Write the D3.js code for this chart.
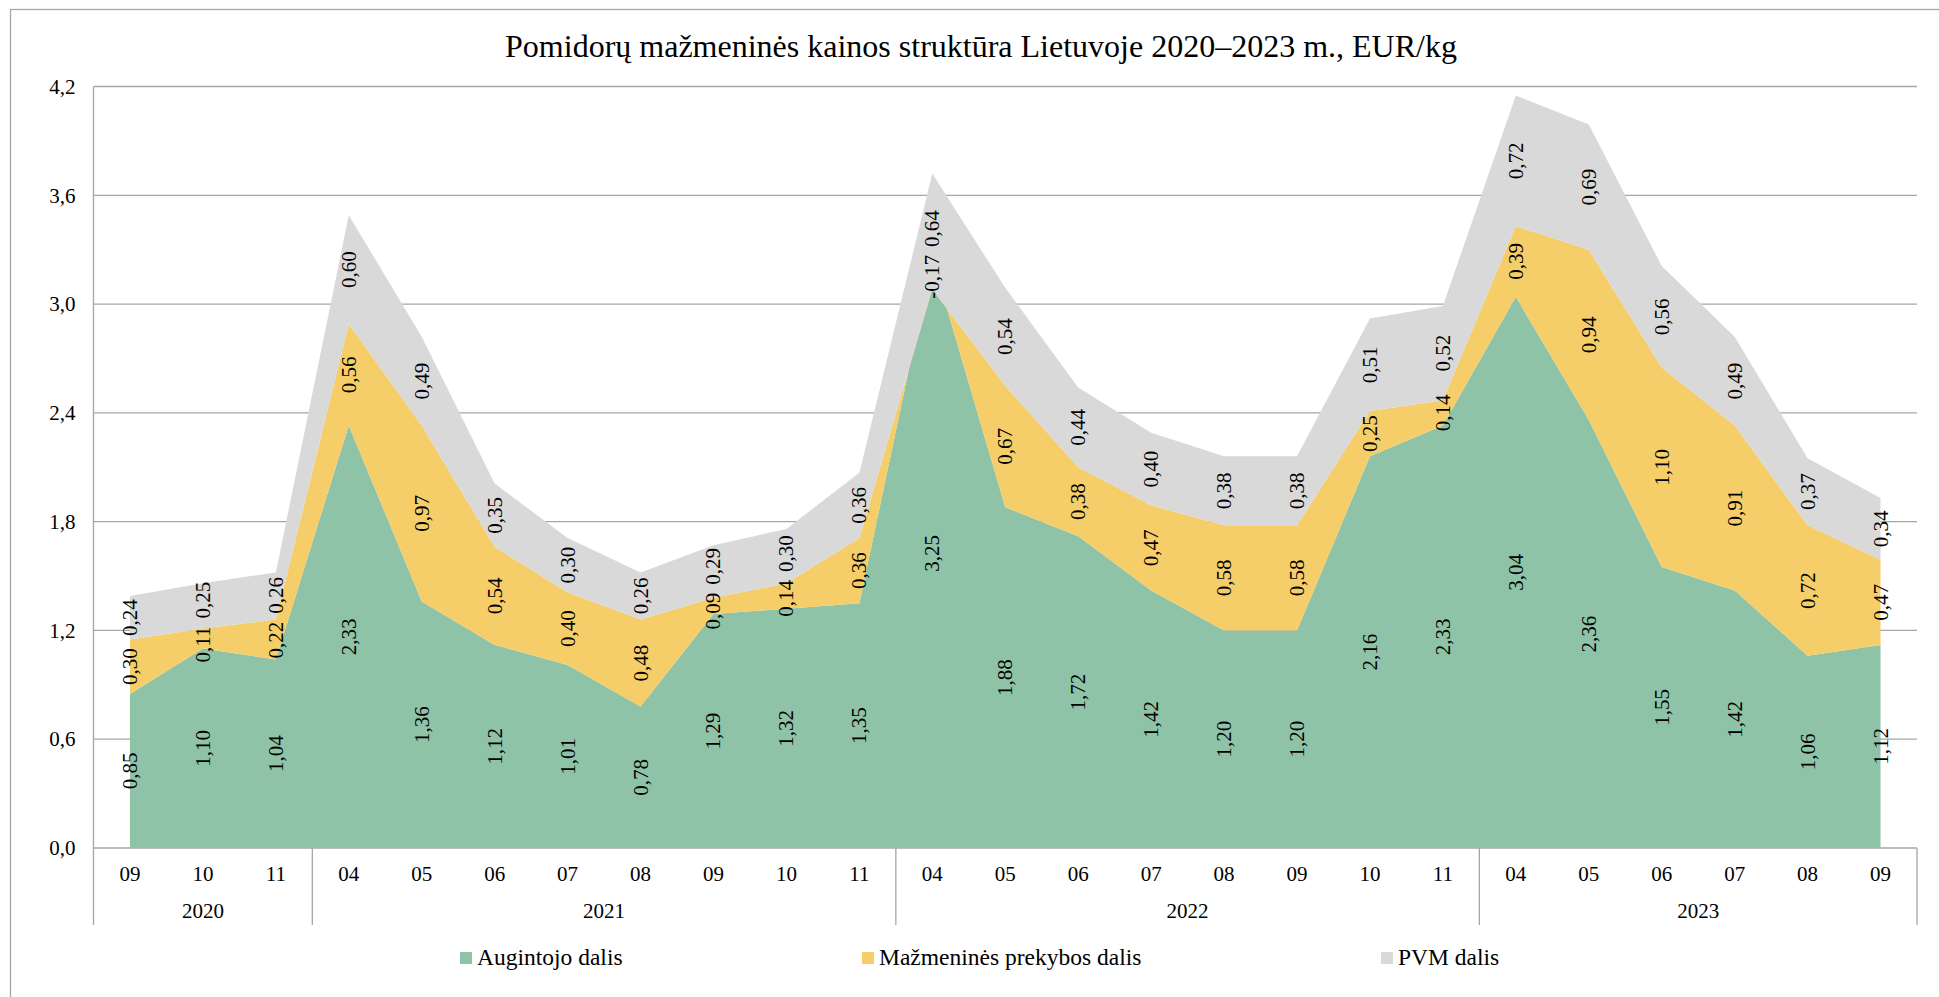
<!DOCTYPE html>
<html>
<head>
<meta charset="utf-8">
<script src="https://cdn.jsdelivr.net/npm/d3@7"></script>
<style>
  html, body { margin: 0; padding: 0; background: #fff; }
  svg { display: block; }
  text { font-family: "Liberation Serif", "Times New Roman", serif; fill: #000; }
</style>
</head>
<body>
<svg id="chart" width="1939" height="997"></svg>
<script>
// Months shown on the axis, grouped by year
const months = ["09","10","11",
  "04","05","06","07","08","09","10","11",
  "04","05","06","07","08","09","10","11",
  "04","05","06","07","08","09"];
const years = [
  { year: "2020", count: 3 },
  { year: "2021", count: 8 },
  { year: "2022", count: 8 },
  { year: "2023", count: 6 }
];

// Price components, EUR/kg
const augintojo = [0.85,1.10,1.04, 2.33,1.36,1.12,1.01,0.78,1.29,1.32,1.35,
  3.25,1.88,1.72,1.42,1.20,1.20,2.16,2.33, 3.04,2.36,1.55,1.42,1.06,1.12];
const mazmenines = [0.30,0.11,0.22, 0.56,0.97,0.54,0.40,0.48,0.09,0.14,0.36,
  -0.17,0.67,0.38,0.47,0.58,0.58,0.25,0.14, 0.39,0.94,1.10,0.91,0.72,0.47];
const pvm = [0.24,0.25,0.26, 0.60,0.49,0.35,0.30,0.26,0.29,0.30,0.36,
  0.64,0.54,0.44,0.40,0.38,0.38,0.51,0.52, 0.72,0.69,0.56,0.49,0.37,0.34];

const seriesNames = ["Augintojo dalis", "Mažmeninės prekybos dalis", "PVM dalis"];
const seriesColors = ["#8EC3A7", "#F5CD69", "#D9D9D9"];
const yTicks = [0, 0.6, 1.2, 1.8, 2.4, 3.0, 3.6, 4.2];

const title = "Pomidorų mažmeninės kainos struktūra Lietuvoje 2020–2023 m., EUR/kg";

const FONT = "Liberation Serif, Times New Roman, serif";
const svg = d3.select("#chart");
const plot = { left: 93.5, right: 1917, top: 86.5, bottom: 848 };
const gridColor = "#A6A6A6";

// outer chart frame
svg.append("rect")
  .attr("x", 10.5).attr("y", 9.5)
  .attr("width", 1935).attr("height", 990)
  .attr("fill", "none").attr("stroke", gridColor).attr("stroke-width", 1.3);

const table = months.map((m, i) => ({
  i, a: augintojo[i], m: mazmenines[i], p: pvm[i]
}));

const x = d3.scaleBand().domain(d3.range(months.length)).range([plot.left, plot.right]);
const cx = i => x(i) + x.bandwidth() / 2;
const y = d3.scaleLinear().domain([0, 4.2]).range([plot.bottom, plot.top]);

const fmt = v => d3.format(".2f")(v).replace(".", ",").replace("−", "-");
const fmt1 = v => d3.format(".1f")(v).replace(".", ",");

// horizontal gridlines
svg.append("g").selectAll("line").data(yTicks).join("line")
  .attr("x1", plot.left).attr("x2", plot.right)
  .attr("y1", d => y(d)).attr("y2", d => y(d))
  .attr("stroke", gridColor).attr("stroke-width", 1.3);

// y axis tick labels
const yAxis = d3.axisLeft(y).tickValues(yTicks).tickFormat(fmt1).tickSize(0).tickPadding(18);
const gy = svg.append("g").attr("transform", `translate(${plot.left},0)`).call(yAxis)
  .attr("font-family", FONT);
gy.select(".domain").remove();
gy.selectAll("text").attr("font-size", 21).attr("fill", "#000");

// stacked areas
const stack = d3.stack().keys(["a", "m", "p"]).offset(d3.stackOffsetNone);
const layers = stack(table);
const area = d3.area()
  .x(d => cx(d.data.i))
  .y0(d => y(d[0]))
  .y1(d => y(d[1]));

svg.append("g").selectAll("path").data(layers).join("path")
  .attr("d", area)
  .attr("fill", (d, k) => seriesColors[k]);

// value labels in the middle of each band, rotated
const labelsG = svg.append("g").attr("font-family", FONT);
const labels = [];
layers.forEach(layer => {
  layer.forEach(d => {
    const t = labelsG.append("text")
      .attr("text-anchor", "middle")
      .attr("dominant-baseline", "central")
      .attr("font-size", 21)
      .text(fmt(d.data[layer.key]));
    labels.push({ node: t, i: d.data.i, cy: y((d[0] + d[1]) / 2), len: t.node().getComputedTextLength() });
  });
});

// keep labels of one column from overlapping
const gap = 8;
d3.groups(labels, l => l.i).forEach(([, col]) => {
  for (let pass = 0; pass < 10; pass++) {
    col.sort((a, b) => a.cy - b.cy);
    for (let k = 0; k < col.length - 1; k++) {
      const up = col[k], dn = col[k + 1];
      const need = (up.len + dn.len) / 2 + gap;
      const dist = dn.cy - up.cy;
      if (dist < need) {
        const shift = (need - dist) / 2;
        up.cy -= shift;
        dn.cy += shift;
      }
    }
  }
});
labels.forEach(l => l.node.attr("transform", `translate(${cx(l.i)},${l.cy}) rotate(-90)`));

// left axis line, extending down into the category area
svg.append("line")
  .attr("x1", plot.left).attr("x2", plot.left)
  .attr("y1", plot.top).attr("y2", 925)
  .attr("stroke", gridColor).attr("stroke-width", 1.3);

// month labels
const xAxis = d3.axisBottom(x).tickFormat(i => months[i]).tickSize(0).tickPadding(18);
const gx = svg.append("g").attr("transform", `translate(0,${plot.bottom})`).call(xAxis)
  .attr("font-family", FONT);
gx.select(".domain").remove();
gx.selectAll("text").attr("font-size", 21).attr("fill", "#000");

// year groups with separators
let start = 0;
const yearG = svg.append("g").attr("font-family", FONT);
years.forEach(g => {
  const x0 = x(start);
  const x1 = x(start + g.count - 1) + x.bandwidth();
  yearG.append("line")
    .attr("x1", x1).attr("x2", x1).attr("y1", plot.bottom).attr("y2", 925)
    .attr("stroke", gridColor).attr("stroke-width", 1.3);
  yearG.append("text")
    .attr("x", (x0 + x1) / 2).attr("y", 918)
    .attr("text-anchor", "middle").attr("font-size", 21)
    .text(g.year);
  start += g.count;
});

// title
svg.append("text")
  .attr("x", 981).attr("y", 57)
  .attr("text-anchor", "middle").attr("font-size", 32)
  .attr("font-family", FONT)
  .text(title);

// legend
const legendX = [460, 862, 1381];
const legend = svg.append("g").attr("font-family", FONT)
  .selectAll("g").data(seriesNames).join("g")
  .attr("transform", (d, k) => `translate(${legendX[k]},952)`);
legend.append("rect")
  .attr("width", 12).attr("height", 12)
  .attr("fill", (d, k) => seriesColors[k]);
legend.append("text")
  .attr("x", 17).attr("y", 13)
  .attr("font-size", 23.5)
  .text(d => d);
</script>
</body>
</html>
